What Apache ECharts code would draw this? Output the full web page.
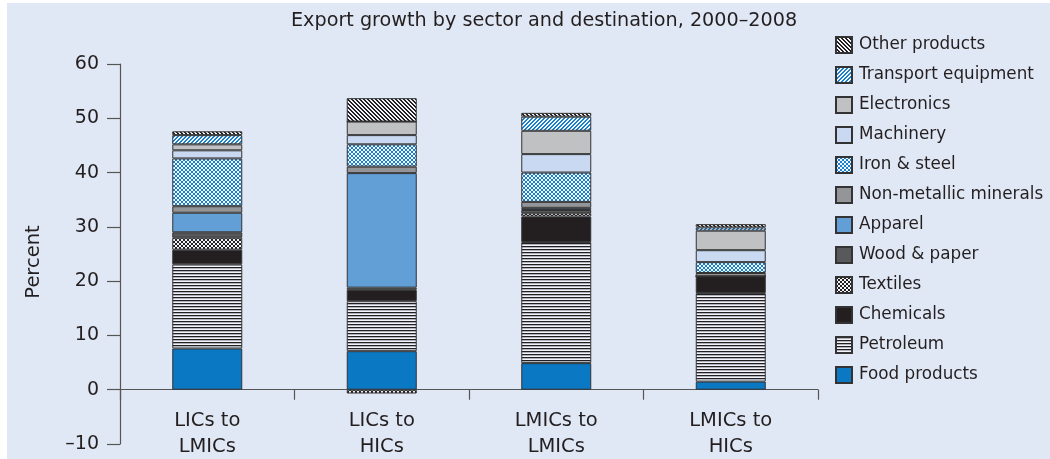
<!DOCTYPE html>
<html>
<head>
<meta charset="utf-8">
<script src="https://cdn.jsdelivr.net/npm/echarts@6/dist/echarts.min.js"></script>
<style>
  html, body { margin: 0; padding: 0; background: #ffffff; }
  #chart { width: 1043px; height: 456px; border-left: 7px solid #ffffff; border-top: 3px solid #ffffff; background: #e1e8f5; }
</style>
</head>
<body>
<div id="chart"></div>
<script>
// ---- data ----
const categories = ['LICs to\nLMICs', 'LICs to\nHICs', 'LMICs to\nLMICs', 'LMICs to\nHICs'];
const sectors = ['Food products', 'Petroleum', 'Chemicals', 'Textiles', 'Wood & paper', 'Apparel',
  'Non-metallic minerals', 'Iron & steel', 'Machinery', 'Electronics', 'Transport equipment', 'Other products'];
const foodProducts       = [7.6, 7.1, 4.9, 1.5];
const petroleum          = [15.5, 9.2, 22.3, 16.3];
const chemicals          = [2.7, 2.1, 4.7, 3.1];
const textiles           = [2.2, -0.7, 0.6, 0];
const woodPaper          = [1.0, 0.4, 0.6, 0];
const apparel            = [3.6, 21.1, 0.4, 0];
const nonMetallic        = [1.2, 1.2, 1.1, 0.6];
const ironSteel          = [8.8, 4.1, 5.4, 2.0];
const machinery          = [1.5, 1.7, 3.4, 2.2];
const electronics        = [1.1, 2.5, 4.3, 3.6];
const transportEquipment = [1.7, 0, 2.6, 0.6];
const otherProducts      = [0.7, 4.3, 0.7, 0.6];
const yTicks = [-10, 0, 10, 20, 30, 40, 50, 60];
const yMin = -10, yMax = 60;

const seriesValues = [foodProducts, petroleum, chemicals, textiles, woodPaper, apparel,
  nonMetallic, ironSteel, machinery, electronics, transportEquipment, otherProducts];

// ---- patterns ----
function makePattern(w, h, draw) {
  const c = document.createElement('canvas');
  c.width = w; c.height = h;
  const ctx = c.getContext('2d');
  draw(ctx);
  return { image: c, repeat: 'repeat' };
}
function checker(a, b, s) {
  return makePattern(2 * s, 2 * s, ctx => {
    ctx.fillStyle = b; ctx.fillRect(0, 0, 2 * s, 2 * s);
    ctx.fillStyle = a; ctx.fillRect(0, 0, s, s); ctx.fillRect(s, s, s, s);
  });
}
function diag(fg, bg, dir) {
  const n = 4;
  return makePattern(n, n, ctx => {
    ctx.fillStyle = bg; ctx.fillRect(0, 0, n, n);
    ctx.fillStyle = fg;
    for (let y = 0; y < n; y++) {
      for (let k = 0; k < 2; k++) {
        let x = dir > 0 ? (y + k) % n : (n - 1 - y + k + n) % n;
        ctx.fillRect(x, y, 1, 1);
      }
    }
  });
}
const petroleumPattern = makePattern(1, 3, ctx => {
  ctx.fillStyle = '#231f20'; ctx.fillRect(0, 0, 1, 1);
  ctx.fillStyle = '#aeb3bd'; ctx.fillRect(0, 1, 1, 1);
  ctx.fillStyle = '#f2f4f9'; ctx.fillRect(0, 2, 1, 1);
});

const styles = [
  '#0a78c2',                          // Food products
  petroleumPattern,                   // Petroleum
  '#231f20',                          // Chemicals
  checker('#231f20', '#f2f4f9', 2),   // Textiles
  '#58595b',                          // Wood & paper
  '#619fd6',                          // Apparel
  '#939598',                          // Non-metallic minerals
  checker('#1a80cc', '#f2f6fc', 2),   // Iron & steel
  '#c8d9f1',                          // Machinery
  '#c0c1c3',                          // Electronics
  diag('#1a80cc', '#f2f6fc', -1),     // Transport equipment
  diag('#231f20', '#f2f4f9', 1)       // Other products
];

const FONT = 'DejaVu Sans, Liberation Sans, sans-serif';
const GRID_TOP = 61, GRID_BOTTOM = 15, CHART_H = 456;
const plotH = CHART_H - GRID_TOP - GRID_BOTTOM;
const zeroOffset = -plotH * (0 - yMin) / (yMax - yMin);

const series = sectors.map((name, i) => ({
  name: name,
  type: 'bar',
  stack: 'total',
  barWidth: 70,
  data: seriesValues[i],
  itemStyle: { color: styles[i], borderColor: '#333333', borderWidth: 1 }
}));

const chart = echarts.init(document.getElementById('chart'));
chart.setOption({
  animation: false,
  backgroundColor: '#e1e8f5',
  textStyle: { fontFamily: FONT, color: '#231f20' },
  title: {
    text: 'Export growth by sector and destination, 2000–2008',
    left: 279, top: 4,
    textStyle: { fontSize: 19.2, fontWeight: 'normal', color: '#231f20', fontFamily: FONT }
  },
  legend: {
    orient: 'vertical',
    left: 823, top: 28,
    itemWidth: 16, itemHeight: 16, itemGap: 12,
    icon: 'rect',
    data: sectors.slice().reverse(),
    textStyle: { fontSize: 16.8, color: '#231f20', fontFamily: FONT, padding: [0, 0, 0, 2] }
  },
  grid: { left: 113, right: 232, top: GRID_TOP, bottom: GRID_BOTTOM, containLabel: false, outerBoundsMode: 'none' },
  xAxis: {
    type: 'category',
    data: categories,
    position: 'bottom',
    offset: zeroOffset,
    axisLine: { show: true, onZero: false, lineStyle: { color: '#555555', width: 1.2 } },
    axisTick: { show: true, inside: false, length: 10, interval: 0, alignWithLabel: false, lineStyle: { color: '#555555', width: 1.2 } },
    axisLabel: { fontSize: 19.5, lineHeight: 26, margin: 18, color: '#231f20', interval: 0, fontFamily: FONT }
  },
  yAxis: {
    type: 'value',
    min: yMin, max: yMax, interval: 10,
    name: 'Percent',
    nameLocation: 'middle',
    nameGap: 76,
    nameTextStyle: { fontSize: 19.5, color: '#231f20', fontFamily: FONT, padding: [0, 16, 0, 0] },
    axisLine: { show: true, lineStyle: { color: '#555555', width: 1.2 } },
    axisTick: { show: true, length: 13, lineStyle: { color: '#555555', width: 1.2 } },
    axisLabel: { fontSize: 19, margin: 21, color: '#231f20', fontFamily: FONT,
      formatter: v => (yTicks.indexOf(v) >= 0 ? String(v).replace('-', '–') : '') },
    splitLine: { show: false }
  },
  series: series
});
</script>
</body>
</html>
